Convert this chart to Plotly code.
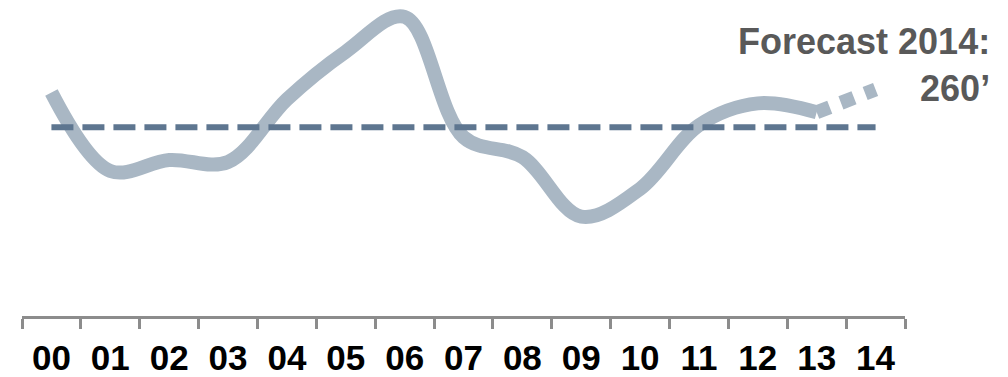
import plotly.graph_objects as go

years = ["00", "01", "02", "03", "04", "05", "06", "07", "08", "09", "10", "11", "12", "13", "14"]
actual = [258.5, 219, 224.5, 223.5, 255, 279, 296.5, 236, 226, 196, 210, 242, 253, 248.5]
forecast_years = ["13", "14"]
forecast = [248.5, 260]
average = 241
annotation_text = "Forecast 2014:<br>260’"

fig = go.Figure()
fig.add_trace(go.Scatter(
    x=years[:len(actual)], y=actual, mode="lines",
    line=dict(color="#A9B7C4", width=14, shape="spline", smoothing=1.0),
    hoverinfo="skip", showlegend=False))
fig.add_trace(go.Scatter(
    x=forecast_years, y=forecast, mode="lines",
    line=dict(color="#A9B7C4", width=14, dash="14px,12px"),
    hoverinfo="skip", showlegend=False))
fig.add_trace(go.Scatter(
    x=[years[0], years[-1]], y=[average, average], mode="lines",
    line=dict(color="#5E7690", width=6, dash="22px,9px"),
    hoverinfo="skip", showlegend=False))

fig.add_annotation(
    text=annotation_text, xref="paper", yref="paper", x=1.0985, y=0.793,
    xanchor="right", yanchor="middle", align="right", showarrow=False,
    font=dict(family="Liberation Sans, Arial, sans-serif", size=36, color="#595959", weight="bold"))

fig.update_layout(
    width=1008, height=377,
    margin=dict(l=22, r=103, t=0, b=59),
    paper_bgcolor="white", plot_bgcolor="white",
    xaxis=dict(
        type="category", categoryorder="array", categoryarray=years,
        range=[-0.5, 14.5], showgrid=False, zeroline=False,
        showline=True, linecolor="#8C8C8C", linewidth=3,
        ticks="outside", tickson="boundaries", ticklen=10, tickwidth=3, tickcolor="#8C8C8C",
        ticklabelstandoff=9,
        tickfont=dict(family="Liberation Sans, Arial, sans-serif", size=35, color="black", weight="bold"),
        fixedrange=True),
    yaxis=dict(range=[146, 305], visible=False, fixedrange=True),
)

fig.write_html("out.html", config={"displayModeBar": False})
